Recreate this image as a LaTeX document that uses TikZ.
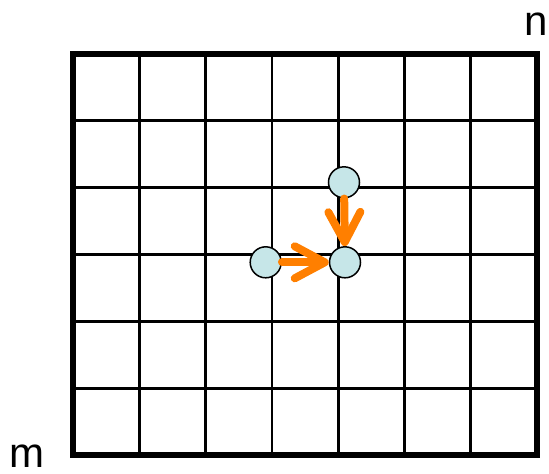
\documentclass[tikz,border=0pt]{standalone}
\usepackage{fontspec}
\setmainfont{Liberation Sans}
\usetikzlibrary{arrows.meta}
\definecolor{arrorange}{RGB}{255,127,0}
\definecolor{dotfill}{RGB}{198,230,232}
\begin{document}
\begin{tikzpicture}[x=1pt,y=-1pt,
  gridline/.style={line width=2.7pt,black},
  outerline/.style={line width=6pt,black},
  dot/.style={circle,draw=black,line width=1.5pt,fill=dotfill,minimum size=31pt,inner sep=0pt},
  arr/.style={arrorange,line width=8pt,line cap=round,line join=round,
    -{Straight Barb[length=30pt,width=32pt,line cap=round,line join=round]}},
  lbl/.style={font=\fontsize{42}{42}\selectfont,inner sep=0pt,text depth=0pt}]
\useasboundingbox (0,0) rectangle (549,474);
% grid
\foreach \k in {1,...,6} {
  \draw[gridline] ({73+66.29*\k},54) -- ({73+66.29*\k},455);
}
\foreach \k in {1,...,5} {
  \draw[gridline] (73,{54+66.83*\k}) -- (537,{54+66.83*\k});
}
\draw[outerline] (73,54) rectangle (537,455);
% circles
\node[dot] (c1) at (265.7,262.3) {};
\node[dot] (c2) at (345,262.3) {};
\node[dot] (c3) at (344,182.3) {};
% arrows
\draw[arr] (c1) -- (c2);
\draw[arr] (c3) -- (c2);
% labels
\node[lbl,anchor=base west] (n) at (524,35) {n};
\node[lbl,anchor=base west] (m) at (9,467) {m};
\end{tikzpicture}
\end{document}
